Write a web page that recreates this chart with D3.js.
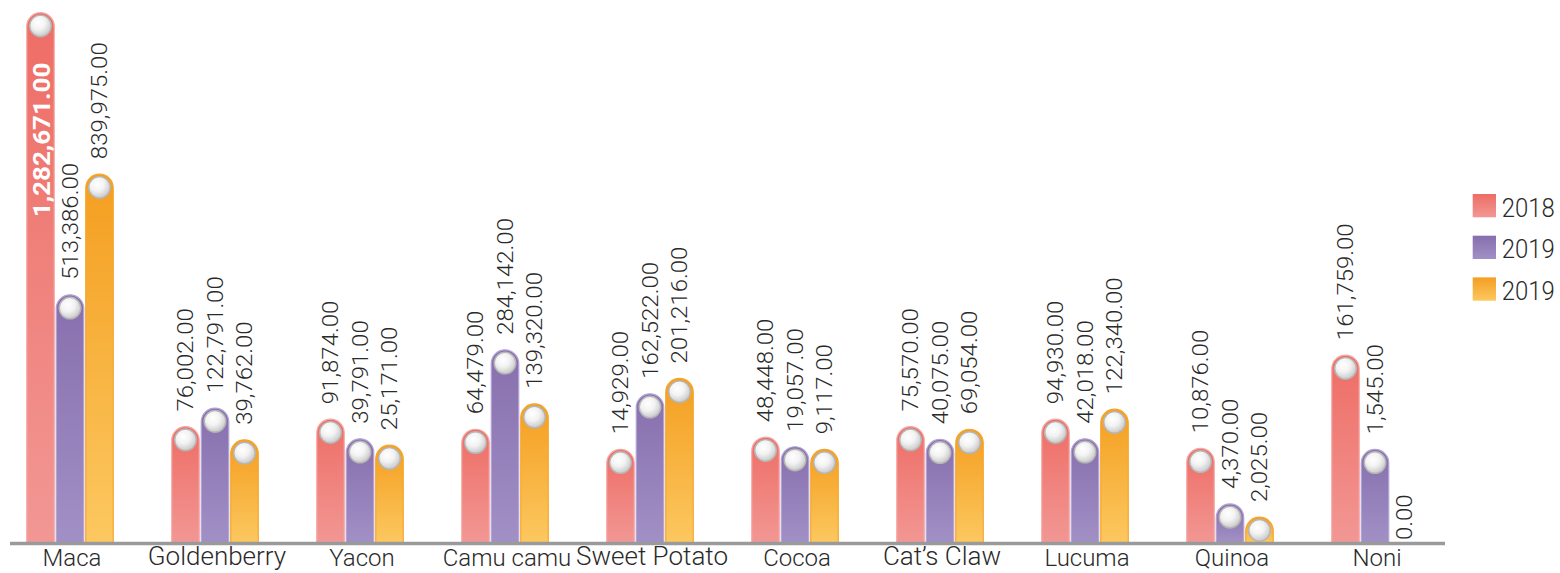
<!DOCTYPE html>
<html><head><meta charset="utf-8">
<script src="https://cdn.jsdelivr.net/npm/d3@7"></script>
<style>html,body{margin:0;padding:0;background:#fff;overflow:hidden}text{font-family:Roboto,"Liberation Sans",sans-serif}</style>
</head><body><svg id="chart" width="1560" height="573"></svg>
<script>
// ---- data ----
const categories = ["Maca","Goldenberry","Yacon","Camu camu","Sweet Potato","Cocoa","Cat’s Claw","Lucuma","Quinoa","Noni"];
const legendLabels = ["2018","2019","2019"];
const values2018 = [1282671,76002,91874,64479,14929,48448,75570,94930,10876,161759];
const values2019 = [513386,122791,39791,284142,162522,19057,40075,42018,4370,1545];
const values2019b = [839975,39762,25171,139320,201216,9117,69054,122340,2025,0];
// Bar heights as drawn in the source infographic (% of the tallest bar);
// the source's bars are not proportional to the printed values.
const level2018 = [100,21.8,23.2,21.3,17.5,19.8,21.8,23.2,17.7,35.3];
const level2019 = [46.7,25.3,19.5,36.3,28.0,18.0,19.4,19.5,7.2,17.5];
const level2019b = [69.5,19.3,18.3,26.1,30.9,17.5,21.3,25.1,4.7,0];
const largeCategoryLabels = ["Goldenberry","Sweet Potato","Cat’s Claw"];

const seriesValues = [values2018, values2019, values2019b];
const seriesLevels = [level2018, level2019, level2019b];

const palette = [
  {top:"#ee6d65", bottom:"#f29794", rim:"#f6aaa6"},
  {top:"#876fad", bottom:"#a190c6", rim:"#b3a4d6"},
  {top:"#f49e20", bottom:"#fcc860", rim:"#f7a62c"}
];

const svg = d3.select("#chart");
const defs = svg.append("defs");
palette.forEach((p,i)=>{
  const g = defs.append("linearGradient").attr("id","grad"+i).attr("x1",0).attr("y1",0).attr("x2",0).attr("y2",1);
  g.append("stop").attr("offset","0%").attr("stop-color",p.top);
  g.append("stop").attr("offset","100%").attr("stop-color",p.bottom);
});
const rg = defs.append("radialGradient").attr("id","knob").attr("cx","40%").attr("cy","35%").attr("r","70%");
rg.append("stop").attr("offset","0%").attr("stop-color","#ffffff");
rg.append("stop").attr("offset","45%").attr("stop-color","#f3f3f3");
rg.append("stop").attr("offset","100%").attr("stop-color","#c4c4c4");

const baseY = 542;
const x0 = d3.scaleBand().domain(categories).range([-2.5, 1447.5]);
const x1 = d3.scaleBand().domain([0,1,2]).range([-43.25, 43.25]).paddingInner(2/29.5);
const y = d3.scaleLinear().domain([0,100]).range([baseY, 12.7]);
const fmt = d3.format(",.2f");

const bw = x1.bandwidth();
const r = bw/2;

const rows = [];
categories.forEach((c,ci)=>{
  seriesValues.forEach((vals,si)=>{
    rows.push({cat:c, s:si, value:vals[ci], level:seriesLevels[si][ci]});
  });
});

const gBars = svg.append("g");
rows.forEach(d=>{
  const cx = x0(d.cat) + x0.bandwidth()/2 + x1(d.s) + bw/2;
  const top = y(d.level);
  if (d.level > 0) {
    const xl = cx - r, xr = cx + r;
    const path = `M${xl},${baseY+1} L${xl},${top+r} A${r},${r} 0 0 1 ${xr},${top+r} L${xr},${baseY+1} Z`;
    gBars.append("path").attr("d",path).attr("fill",`url(#grad${d.s})`)
      .attr("stroke",palette[d.s].rim).attr("stroke-width",1.2);
    gBars.append("circle").attr("cx",cx).attr("cy",top+r-0.5).attr("r",10.8)
      .attr("fill","url(#knob)").attr("stroke","#b5b5b5").attr("stroke-width",1.4);
  }
  const inside = d.level > 90;
  const t = gBars.append("text").text(fmt(d.value)).attr("dy","0.36em");
  if (inside) {
    t.attr("transform",`translate(${cx+1},${top+50}) scale(0.92,1) rotate(-90)`)
      .attr("text-anchor","end").attr("fill","#fff").attr("font-weight",700).attr("font-size",26);
  } else {
    const ys = d.level > 0 ? top - 15 : baseY - 2;
    t.attr("transform",`translate(${cx},${ys}) scale(0.9,1) rotate(-90)`)
      .attr("text-anchor","start").attr("fill","#2a2a2a").attr("font-weight",300).attr("font-size",24);
  }
});

// axis line
svg.append("line").attr("x1",10).attr("x2",1445).attr("y1",543.5).attr("y2",543.5)
  .attr("stroke","#9a9a9a").attr("stroke-width",3.5);

// category labels
svg.append("g").selectAll("text").data(categories).join("text")
  .attr("x",c=>x0(c)+x0.bandwidth()/2+2)
  .attr("y",c=>largeCategoryLabels.includes(c)?565:566)
  .attr("text-anchor","middle").attr("fill","#2a2a2a").attr("font-weight",300)
  .attr("font-size",c=>largeCategoryLabels.includes(c)?26:24)
  .text(c=>c);

// legend
const lg = svg.append("g");
legendLabels.forEach((l,i)=>{
  const yy = 194 + i*41.7;
  lg.append("rect").attr("x",1472.7).attr("y",yy).attr("width",23.3).attr("height",23.3).attr("fill",`url(#grad${i})`);
  lg.append("text").attr("transform",`translate(1501.7,${yy+22.5}) scale(0.92,1)`)
    .attr("font-size",26).attr("font-weight",300).attr("fill","#2a2a2a").text(l);
});
</script></body></html>
